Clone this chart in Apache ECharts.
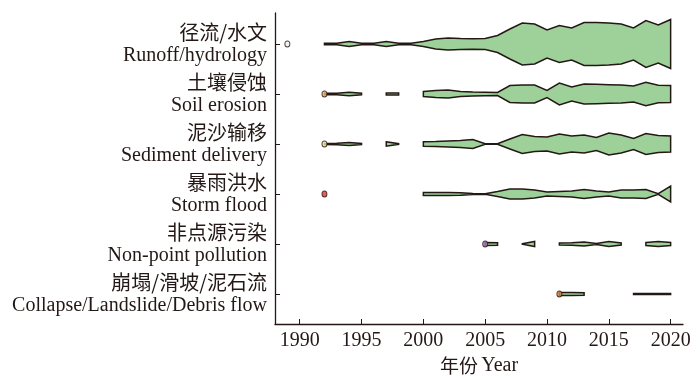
<!DOCTYPE html>
<html>
<head>
<meta charset="utf-8">
<script src="https://cdn.jsdelivr.net/npm/echarts@6/dist/echarts.min.js"></script>
<style>
html,body{margin:0;padding:0;background:#fff}
#main{width:700px;height:378px}
</style>
</head>
<body>
<div id="main"></div>
<script>
// categories, top row first
var categoriesCn = ['径流/水文', '土壤侵蚀', '泥沙输移', '暴雨洪水', '非点源污染', '崩塌/滑坡/泥石流'];
var categoriesEn = ['Runoff/hydrology', 'Soil erosion', 'Sediment delivery', 'Storm flood', 'Non-point pollution', 'Collapse/Landslide/Debris flow'];

// years 1989 .. 2020
var years = [1989, 1990, 1991, 1992, 1993, 1994, 1995, 1996, 1997, 1998, 1999, 2000,
    2001, 2002, 2003, 2004, 2005, 2006, 2007, 2008, 2009, 2010,
    2011, 2012, 2013, 2014, 2015, 2016, 2017, 2018, 2019, 2020];

// violin half widths per year (null = no record)
var runoff = [null, null, null, 0.8, 0.8, 2.5, 0.8, 0.8, 2.5, 0.8, 0.8,
    2.5, 5, 6, 5.5, 5.3, 5.5, 8.5, 15, 21, 20, 14, 18.5, 16, 21.5, 21.5, 21, 20, 16, 23.5, 19, 24.5];
var soil = [null, null, null, 0.8, 0.8, 1.8, 0.8, null, 1, 1, null,
    2.5, 3.5, 4, 2.5, 2, 1.8, 1.5, 8.5, 9, 9, 3.5, 11, 7, 10, 9.7, 9.3, 9, 8, 11.7, 8.7, 8.5];
var sediment = [null, null, null, 0.6, 0.8, 1.5, 0.6, null, 2.2, 0.3, null,
    2.3, 2.5, 3, 3.5, 4.5, 0.3, 0.3, 5, 9.5, 7.5, 7, 10, 8, 9, 6.5, 11, 9, 5.5, 10.5, 8.5, 8];
var storm = [null, null, null, null, null, null, null, null, null, null, null,
    1.5, 1.5, 1.5, 1.3, 0.4, 0.3, 2.5, 5, 5, 4, 2, 2.5, 3, 4.5, 3, 2, 4, 4, 4.5, 0.3, 8];
var nonPoint = [null, null, null, null, null, null, null, null, null, null, null,
    null, null, null, null, null, 1.5, 1.2, null, 0.2, 2.5, null, 1, 1.3, 2, 0.6, 2.5, 1, null, 1.5, 2.5, 1.5];
var collapse = [null, null, null, null, null, null, null, null, null, null, null,
    null, null, null, null, null, null, null, null, null, null, null, 1.5, 1.5, 1.2, null, null, null, 0.5, 0.5, 0.5, 0.5];

// first year of each topic (dot)
var firstYear = [1989, 1992, 1992, 1992, 2005, 2011];

var xTicks = [1990, 1995, 2000, 2005, 2010, 2015, 2020];
var rowTicks = [1, 2, 3, 4, 5, 6];

var allRows = [runoff, soil, sediment, storm, nonPoint, collapse];
var dotColors = ['#f4f1e4', '#f3b869', '#f1e59a', '#e5332a', '#a77bb8', '#e0844a'];
var WIDTH_SCALE = 0.02;   // half width -> y axis units
var INK = '#231815';

var segList = [];
var segData = [];
allRows.forEach(function (vals, r) {
    var row = 6 - r;
    var cur = null;
    for (var i = 0; i < years.length; i++) {
        if (vals[i] != null) {
            if (!cur) {
                cur = {row: row, pts: []};
                segList.push(cur);
                segData.push([years[i], row]);
            }
            cur.pts.push([years[i], vals[i]]);
        } else {
            cur = null;
        }
    }
});

var dotData = firstYear.map(function (y, i) {
    return [y, 6 - i];
});

var chart = echarts.init(document.getElementById('main'), null, {renderer: 'canvas'});

var option = {
    animation: false,
    grid: {left: 275, right: 17, top: 13, bottom: 54, containLabel: false, outerBoundsMode: 'none'},
    xAxis: {
        type: 'value',
        min: 1988,
        max: 2021,
        axisLine: {lineStyle: {color: INK, width: 1.3}},
        axisTick: {inside: true, length: 5, customValues: xTicks, lineStyle: {color: INK}},
        axisLabel: {
            customValues: xTicks,
            margin: 7,
            color: INK,
            fontFamily: 'Liberation Serif',
            fontSize: 20,
            formatter: function (v) { return String(v); }
        },
        splitLine: {show: false},
        name: '{cn|年份} {en|Year}',
        nameLocation: 'middle',
        nameGap: 28,
        nameTextStyle: {
            rich: {
                cn: {fontFamily: 'Noto Sans CJK SC', fontSize: 19, color: INK},
                en: {fontFamily: 'Liberation Serif', fontSize: 20, color: INK}
            }
        }
    },
    yAxis: {
        type: 'value',
        min: 0.4,
        max: 6.62,
        axisLine: {show: true, lineStyle: {color: INK, width: 1.3}},
        axisTick: {show: true, inside: true, length: 5, customValues: rowTicks, lineStyle: {color: INK}},
        axisLabel: {
            customValues: rowTicks,
            margin: 8,
            align: 'right',
            formatter: function (v) {
                var i = 6 - Math.round(v);
                return '{cn|' + categoriesCn[i] + '}\n{en|' + categoriesEn[i] + '}';
            },
            rich: {
                cn: {fontFamily: 'Noto Sans CJK SC', fontSize: 20, lineHeight: 23, color: INK, align: 'right'},
                en: {fontFamily: 'Liberation Serif', fontSize: 20, lineHeight: 23, color: INK, align: 'right'}
            }
        },
        splitLine: {show: false}
    },
    series: [
        {
            type: 'custom',
            data: segData,
            encode: {x: 0, y: 1},
            renderItem: function (params, api) {
                var seg = segList[params.dataIndex];
                var top = [], bot = [];
                seg.pts.forEach(function (p) {
                    top.push(api.coord([p[0], seg.row + p[1] * WIDTH_SCALE]));
                    bot.unshift(api.coord([p[0], seg.row - p[1] * WIDTH_SCALE]));
                });
                return {
                    type: 'polygon',
                    shape: {points: top.concat(bot)},
                    style: {fill: '#9dd199', stroke: INK, lineWidth: 1.5, lineJoin: 'miter'}
                };
            }
        },
        {
            type: 'scatter',
            data: dotData,
            symbolSize: [5, 6],
            z: 5,
            itemStyle: {
                color: function (p) { return dotColors[p.dataIndex]; },
                borderColor: INK,
                borderWidth: 1
            }
        }
    ]
};
chart.setOption(option);
</script>
</body>
</html>
